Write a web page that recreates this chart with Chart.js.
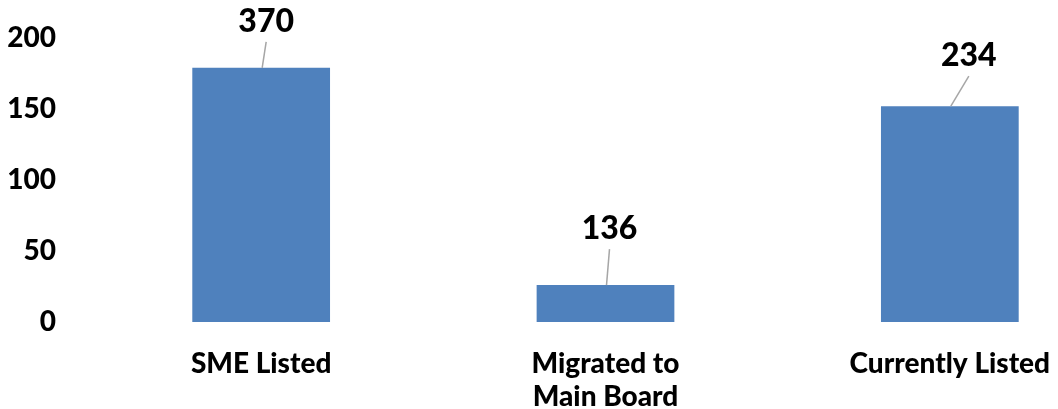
<!DOCTYPE html>
<html>
<head>
<meta charset="utf-8">
<script src="https://cdn.jsdelivr.net/npm/chart.js@4/dist/chart.umd.min.js"></script>
<style>
  html, body { margin: 0; padding: 0; background: #fff; overflow: hidden; }
  #wrap { width: 1122px; height: 409px; }
</style>
</head>
<body>
<div id="wrap"><canvas id="bar-chart"></canvas></div>
<script>
var categories = [['SME Listed'], ['Migrated to', 'Main Board'], ['Currently Listed']];
var barValues = [179, 26, 152];
var valueLabels = ['370', '136', '234'];
var yTicks = [0, 50, 100, 150, 200];

// label offsets from top of bar (dx, dy) - like the excel chart
var labelOffsets = [[5, -46], [4, -56], [19, -50]];

var leaderLabels = {
  id: 'leaderLabels',
  afterDatasetsDraw: function(chart) {
    var ctx = chart.ctx;
    var meta = chart.getDatasetMeta(0);
    ctx.save();
    meta.data.forEach(function(bar, i) {
      var lx = bar.x + labelOffsets[i][0];
      var ly = bar.y + labelOffsets[i][1];
      // leader line
      ctx.strokeStyle = '#a6a6a6';
      ctx.lineWidth = 1.5;
      ctx.beginPath();
      ctx.moveTo(lx, ly + 20);
      ctx.lineTo(bar.x + 1, bar.y);
      ctx.stroke();
      // value text
      ctx.fillStyle = '#000';
      ctx.font = '900 32px Lato';
      ctx.textAlign = 'center';
      ctx.textBaseline = 'middle';
      ctx.fillText(valueLabels[i], lx, ly);
    });
    ctx.restore();
  }
};

var mychart = document.getElementById('bar-chart');
var myBarChart = new Chart(mychart, {
  type: 'bar',
  data: {
    labels: categories,
    datasets: [
      {
        data: barValues,
        backgroundColor: '#4f81bd',
        borderWidth: 0,
        categoryPercentage: 1,
        barPercentage: 0.4
      }
    ]
  },
  options: {
    maintainAspectRatio: false,
    animation: false,
    events: [],
    layout: { padding: { top: 38, right: 0, bottom: 0, left: 0 } },
    plugins: {
      legend: { display: false },
      tooltip: { enabled: false }
    },
    scales: {
      x: {
        grid: { display: false },
        border: { display: false },
        ticks: {
          color: '#000',
          padding: 17,
          maxRotation: 0,
          autoSkip: false,
          font: { family: 'Lato', size: 28, weight: 900, lineHeight: 1.2 }
        },
        afterFit: function(s) { s.height = 87; }
      },
      y: {
        min: 0,
        max: 200,
        grid: { display: false },
        border: { display: false },
        afterBuildTicks: function(s) { s.ticks = yTicks.map(function(v) { return { value: v }; }); },
        ticks: {
          color: '#000',
          padding: 25,
          font: { family: 'Lato', size: 28, weight: 900 }
        },
        afterFit: function(s) {
          s.width = 89;
          s.paddingTop = 0;     // tick padding was pushing the top down
          s.paddingBottom = 0;
        }
      }
    }
  },
  plugins: [leaderLabels]
});
</script>
</body>
</html>
